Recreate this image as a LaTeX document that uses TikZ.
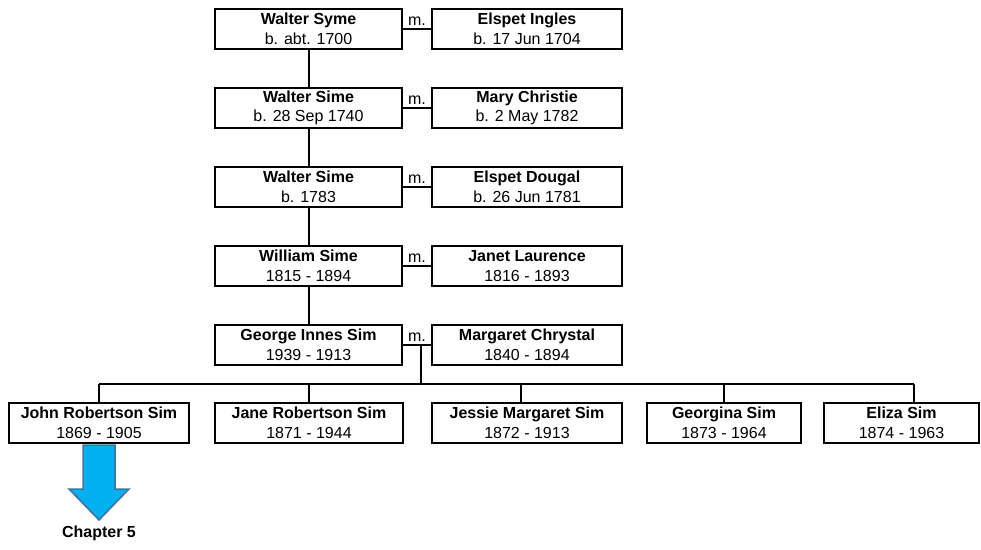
\documentclass[tikz,border=0pt]{standalone}
\usepackage{fontspec}
\setmainfont{Liberation Sans}
\usetikzlibrary{positioning}

\definecolor{arrowfill}{RGB}{0,176,240}
\definecolor{arrowline}{RGB}{65,113,156}

\begin{document}
\begin{tikzpicture}[x=1pt,y=-1pt,node distance=39pt,
    every node/.style={font=\fontsize{16}{19.5}\selectfont},
    person/.style={draw,line width=2.2pt,minimum height=40pt,inner sep=0pt,outer sep=0pt,align=center},
    link/.style={line width=2pt},
    wed/.style={above,inner sep=3pt}]
  \useasboundingbox (0,0) rectangle (981,549);

  % the line of descent
  \node[person,minimum width=187pt] (WalterSyme)   at (308.5,29)          {\textbf{Walter Syme}\\b. abt. 1700};
  \node[person,minimum width=187pt] (WalterSimeA)  [below=of WalterSyme]  {\textbf{Walter Sime}\\b. 28 Sep 1740};
  \node[person,minimum width=187pt] (WalterSimeB)  [below=of WalterSimeA] {\textbf{Walter Sime}\\b. 1783};
  \node[person,minimum width=187pt] (WilliamSime)  [below=of WalterSimeB] {\textbf{William Sime}\\1815 - 1894};
  \node[person,minimum width=187pt] (GeorgeSim)    [below=of WilliamSime] {\textbf{George Innes Sim}\\1939 - 1913};

  % wives
  \node[person,minimum width=190pt] (ElspetIngles) [right=30pt of WalterSyme]  {\textbf{Elspet Ingles}\\b. 17 Jun 1704};
  \node[person,minimum width=190pt] (MaryChristie) [right=30pt of WalterSimeA] {\textbf{Mary Christie}\\b. 2 May 1782};
  \node[person,minimum width=190pt] (ElspetDougal) [right=30pt of WalterSimeB] {\textbf{Elspet Dougal}\\b. 26 Jun 1781};
  \node[person,minimum width=190pt] (JanetLaurence)[right=30pt of WilliamSime] {\textbf{Janet Laurence}\\1816 - 1893};
  \node[person,minimum width=190pt] (MargaretChrystal)[right=30pt of GeorgeSim] {\textbf{Margaret Chrystal}\\1840 - 1894};

  % children
  \node[person,minimum width=180pt] (JohnSim)     at (99,423)             {\textbf{John Robertson Sim}\\1869 - 1905};
  \node[person,minimum width=188pt] (JaneSim)     [right=26pt of JohnSim] {\textbf{Jane Robertson Sim}\\1871 - 1944};
  \node[person,minimum width=190pt] (JessieSim)   [right=29pt of JaneSim] {\textbf{Jessie Margaret Sim}\\1872 - 1913};
  \node[person,minimum width=154pt] (GeorginaSim) [right=25pt of JessieSim] {\textbf{Georgina Sim}\\1873 - 1964};
  \node[person,minimum width=155pt] (ElizaSim)    [right=23pt of GeorginaSim] {\textbf{Eliza Sim}\\1874 - 1963};

  \path[link]
     (WalterSyme)  edge node[wed] {m.} (ElspetIngles)
     (WalterSimeA) edge node[wed] {m.} (MaryChristie)
     (WalterSimeB) edge node[wed] {m.} (ElspetDougal)
     (WilliamSime) edge node[wed] {m.} (JanetLaurence)
     (WalterSyme)  edge (WalterSimeA)
     (WalterSimeA) edge (WalterSimeB)
     (WalterSimeB) edge (WilliamSime)
     (WilliamSime) edge (GeorgeSim);
  \draw[link] (GeorgeSim) -- node[wed] {m.} coordinate[pos=0.63] (wedding) (MargaretChrystal);

  % down to the children
  \coordinate (bus) at (0,384);
  \draw[link] (wedding) -- (wedding |- bus);
  \foreach \kid/\dx in {JohnSim/0,JaneSim/0,JessieSim/-6,GeorginaSim/0,ElizaSim/12} {
    \coordinate (top\kid) at ([xshift=\dx pt]\kid.north);
    \draw[link] (top\kid) -- (top\kid |- bus);
  }
  \draw[link] (topJohnSim |- bus) -- (topElizaSim |- bus);

  % next chapter
  \draw[fill=arrowfill,draw=arrowline,line width=1.5pt]
     ([xshift=-16pt,yshift=-2pt]JohnSim.south) -- ++(0,44) -- ++(-14,0) -- ++(30,31)
     -- ++(30,-31) -- ++(-14,0) -- ++(0,-44) -- cycle;
  \node[font=\fontsize{16}{19.5}\selectfont\bfseries] (Chapter) at (99,533) {Chapter 5};
\end{tikzpicture}
\end{document}
